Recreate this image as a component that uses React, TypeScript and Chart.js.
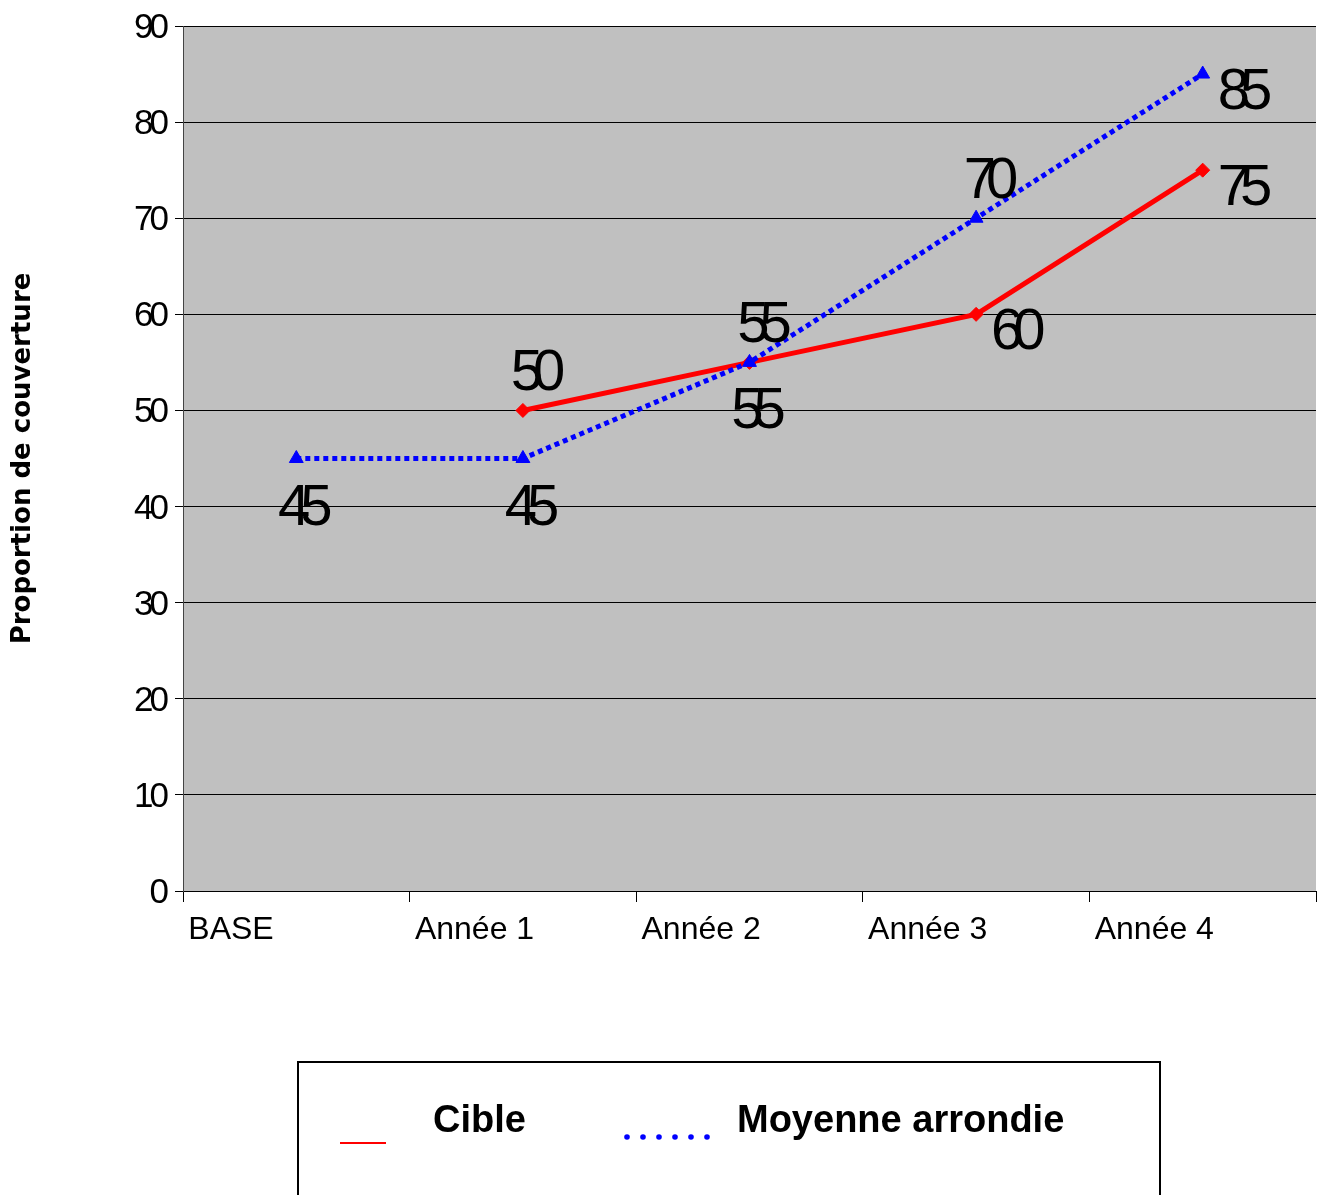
import React, { useEffect, useRef } from 'react';
import { Chart, registerables } from 'chart.js';

Chart.register(...registerables);

const categories = ['BASE', 'Année 1', 'Année 2', 'Année 3', 'Année 4'];
const cibleValues: (number | null)[] = [null, 50, 55, 60, 75];
const moyenneValues: number[] = [45, 45, 55, 70, 85];
const yMin = 0;
const yMax = 90;
const yStep = 10;
const seriesNames = ['Cible', 'Moyenne arrondie'];
const axisTitle = 'Proportion de couverture';

// label placement (style, not data)
const ciblePlacement = [null, 'above', 'below', 'right', 'right'];
const moyennePlacement = ['below', 'below', 'above', 'above', 'right'];

const RED = '#FF0000';
const BLUE = '#0000FF';
const PLOT_BG = '#C0C0C0';

const bgPlugin = {
  id: 'plotBg',
  beforeDraw(chart: any) {
    const { ctx, chartArea } = chart;
    ctx.save();
    ctx.fillStyle = PLOT_BG;
    ctx.fillRect(chartArea.left, chartArea.top, chartArea.right - chartArea.left, chartArea.bottom - chartArea.top);
    ctx.restore();
  },
};

const yLabelPlugin = {
  id: 'yLabels',
  afterDraw(chart: any) {
    const { ctx } = chart;
    const scale = chart.scales.y;
    ctx.save();
    ctx.font = '35px "Liberation Sans"';
    (ctx as any).letterSpacing = '-4px';
    ctx.fillStyle = '#000';
    ctx.textAlign = 'right';
    ctx.textBaseline = 'alphabetic';
    scale.ticks.forEach((t: any) => {
      const py = scale.getPixelForValue(t.value);
      ctx.fillText(String(t.value), scale.right - 18, py + 12);
    });
    ctx.restore();
  },
};

const dataLabelPlugin = {
  id: 'dataLabels',
  afterDatasetsDraw(chart: any) {
    const { ctx } = chart;
    const placements = [ciblePlacement, moyennePlacement];
    ctx.save();
    ctx.font = '58px "Liberation Sans"';
    (ctx as any).letterSpacing = '-10px';
    ctx.fillStyle = '#000';
    ctx.textBaseline = 'alphabetic';
    chart.data.datasets.forEach((ds: any, i: number) => {
      const meta = chart.getDatasetMeta(i);
      ds.data.forEach((v: any, j: number) => {
        if (v === null || v === undefined) return;
        const el = meta.data[j];
        const pos = placements[i][j];
        const text = String(v);
        if (pos === 'above') {
          ctx.textAlign = 'center';
          ctx.fillText(text, el.x + 10, el.y - 20);
        } else if (pos === 'below') {
          ctx.textAlign = 'center';
          ctx.fillText(text, el.x + 4, el.y + 66);
        } else {
          ctx.textAlign = 'left';
          ctx.fillText(text, el.x + 15, el.y + 35);
        }
      });
    });
    ctx.restore();
  },
};

const legendPlugin = {
  id: 'boxLegend',
  afterDraw(chart: any) {
    const { ctx } = chart;
    ctx.save();
    ctx.strokeStyle = '#000';
    ctx.lineWidth = 2;
    ctx.strokeRect(298, 1062, 862, 200);
    // Cible sample
    ctx.strokeStyle = RED;
    ctx.lineWidth = 2;
    ctx.beginPath();
    ctx.moveTo(340, 1143);
    ctx.lineTo(386, 1143);
    ctx.stroke();
    // Moyenne sample (dots)
    ctx.fillStyle = BLUE;
    for (let k = 0; k < 6; k++) {
      ctx.beginPath();
      ctx.arc(627 + k * 16, 1137, 2.8, 0, Math.PI * 2);
      ctx.fill();
    }
    ctx.fillStyle = '#000';
    ctx.font = 'bold 38px "Liberation Sans"';
    ctx.textAlign = 'left';
    ctx.textBaseline = 'alphabetic';
    ctx.fillText(seriesNames[0], 433, 1132);
    ctx.fillText(seriesNames[1], 737, 1132);
    ctx.restore();
  },
};

export default function App() {
  const ref = useRef<HTMLCanvasElement | null>(null);

  useEffect(() => {
    document.body.style.margin = '0';
    const canvas = ref.current;
    if (!canvas) return;
    const chart = new Chart(canvas, {
      type: 'line',
      data: {
        labels: categories,
        datasets: [
          {
            label: seriesNames[0],
            data: cibleValues,
            borderColor: RED,
            backgroundColor: RED,
            borderWidth: 5,
            pointStyle: 'rectRot',
            pointRadius: 7,
            pointBorderWidth: 1,
            tension: 0,
            spanGaps: false,
            order: 1,
          },
          {
            label: seriesNames[1],
            data: moyenneValues,
            borderColor: BLUE,
            backgroundColor: BLUE,
            borderWidth: 5,
            borderDash: [5, 4],
            pointStyle: 'triangle',
            pointRadius: 8,
            pointBorderWidth: 1,
            tension: 0,
            order: 0,
          },
        ],
      },
      options: {
        responsive: false,
        animation: false,
        events: [],
        layout: { autoPadding: false, padding: { top: 26, right: 2, left: 0, bottom: 0 } },
        plugins: {
          legend: { display: false },
          tooltip: { enabled: false },
        },
        scales: {
          x: {
            type: 'category',
            offset: true,
            grid: {
              offset: true,
              drawOnChartArea: false,
              drawTicks: true,
              tickLength: 11,
              color: '#000',
            },
            border: { color: '#000', width: 1 },
            ticks: {
              font: { family: 'Liberation Sans', size: 32 },
              color: '#000',
              align: 'start',
              labelOffset: (c: any) => -108 + (typeof c?.index === 'number' ? c.index : 0) * 7,
              padding: 9,
              maxRotation: 0,
              autoSkip: false,
            },
            afterFit: (s: any) => {
              s.height = 304;
              s.paddingLeft = 0;
              s.paddingRight = 0;
            },
          },
          y: {
            min: yMin,
            max: yMax,
            ticks: { stepSize: yStep, display: false },
            grid: { color: '#000', tickLength: 8, lineWidth: 1 },
            border: { color: '#444', width: 1 },
            title: {
              display: true,
              text: axisTitle,
              color: '#000',
              font: { family: 'DejaVu Sans', size: 26, weight: 'bold' },
              padding: { top: 8, bottom: 0 },
            },
            afterFit: (s: any) => {
              s.width = 183;
            },
          },
        },
      },
      plugins: [bgPlugin, yLabelPlugin, dataLabelPlugin, legendPlugin],
    } as any);
    return () => chart.destroy();
  }, []);

  return (
    <div style={{ position: 'absolute', left: 0, top: 0, width: 1318, height: 1195, background: '#fff' }}>
      <canvas ref={ref} width={1318} height={1195} />
    </div>
  );
}
